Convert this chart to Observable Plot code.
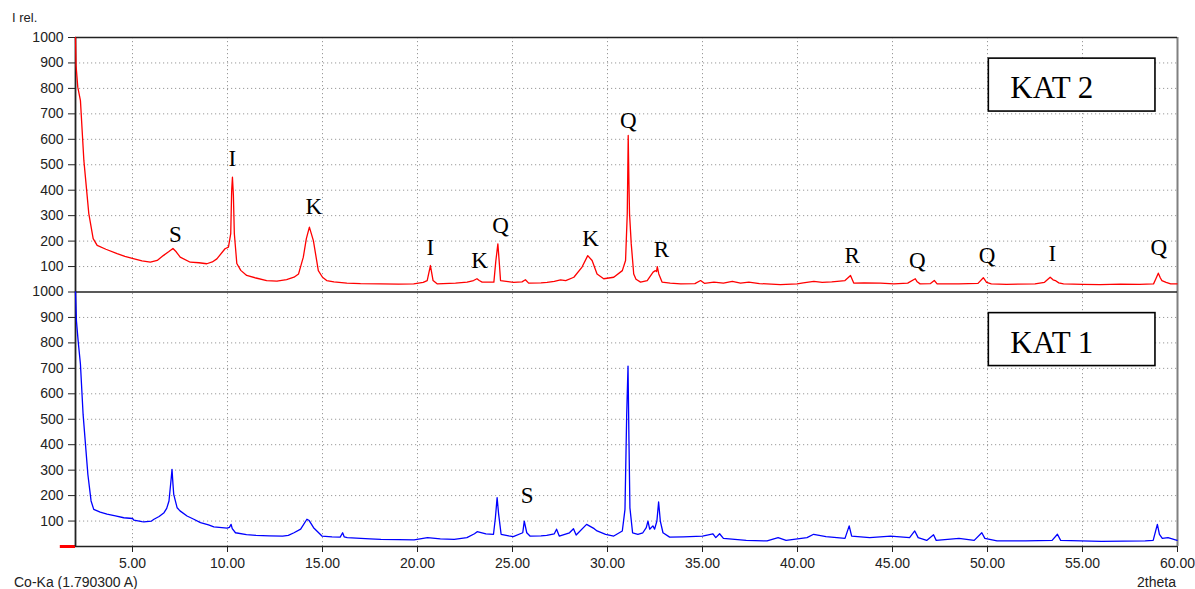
<!DOCTYPE html>
<html>
<head>
<meta charset="utf-8">
<script src="https://cdn.jsdelivr.net/npm/d3@7"></script>
<script src="https://cdn.jsdelivr.net/npm/@observablehq/plot@0.6"></script>
<style>
  body { margin: 0; background: white; }
  #wrap { position: relative; width: 1195px; height: 589px; font-family: 'Liberation Sans', Arial, sans-serif; color: #222; }
  .lab { position: absolute; white-space: nowrap; line-height: 1; }
</style>
</head>
<body>
<div id="wrap">
  <div id="chart"></div>
  <div class="lab" style="left:12px; top:11px; font-size:13px;">I rel.</div>
  <div class="lab" style="left:14px; top:575px; font-size:14px;">Co-Ka (1.790300 A)</div>
  <div class="lab" style="left:1137px; top:575px; font-size:14px;">2theta</div>
</div>
<script>
// KAT 2 (red, upper panel)
const kat2Theta = [2.00,2.03,2.12,2.26,2.44,2.70,2.93,3.14,3.6,4.19,4.6,5.04,5.5,5.94,6.3,6.62,6.9,7.13,7.3,7.51,8.04,8.5,8.91,9.2,9.44,9.87,10.05,10.17,10.22,10.26,10.31,10.36,10.49,10.7,11.01,11.5,12.06,12.6,13.11,13.5,13.74,13.99,14.15,14.31,14.52,14.78,15.0,15.22,15.6,16.28,17.0,18.05,19.0,19.8,20.3,20.51,20.68,20.82,21.03,22.0,22.61,22.95,23.13,23.25,23.4,24.02,24.12,24.23,24.30,24.37,25.06,25.5,25.68,25.85,26.5,26.82,27.2,27.53,27.8,28.23,28.66,28.96,29.19,29.45,29.8,30.33,30.78,30.95,31.04,31.09,31.13,31.16,31.25,31.38,31.5,31.74,32.09,32.40,32.52,32.58,32.62,32.70,32.87,33.3,33.85,34.6,34.9,35.1,35.6,36.1,36.57,37.0,37.44,38.0,39.1,39.98,40.3,40.86,41.3,41.8,42.09,42.5,42.79,42.96,43.5,44.37,45.07,45.8,46.20,46.30,46.45,47.0,47.2,47.35,48.5,49.5,49.78,49.95,50.2,51.0,52.5,53.0,53.30,53.45,53.57,53.75,54.0,55.0,55.93,57.0,58.0,58.74,58.85,58.99,59.1,59.18,59.4,59.64,59.98];
const kat2Intensity = [1000,890,805,752,517,308,210,183,168,151,140,131,122,117,124,143,158,171,158,137,117,115,111,118,130,170,176,229,400,451,380,229,112,85,65,55,45,43,49,58,71,137,210,255,202,84,58,45,40,35,33,32,31,32,38,45,104,45,32,35,39,45,52,45,39,39,120,189,120,45,38,40,48,35,36,38,42,48,45,58,98,143,124,71,52,58,84,124,307,615,420,307,189,71,50,39,45,78,84,80,100,71,39,35,32,33,45,34,39,35,42,35,39,33,29,32,36,42,38,40,42,45,65,35,36,35,32,35,52,40,32,33,45,32,32,34,56,38,32,30,32,38,58,48,45,36,32,30,29,31,30,32,50,74,55,45,38,32,32];

// KAT 1 (blue, lower panel)
const kat1Theta = [2.00,2.05,2.14,2.26,2.40,2.65,2.82,2.96,3.3,3.66,4.1,4.54,5.0,5.07,5.5,5.60,6.0,6.13,6.4,6.66,6.8,6.92,7.04,7.08,7.13,7.17,7.35,7.5,7.87,8.2,8.58,9.0,9.28,9.7,9.98,10.10,10.19,10.25,10.42,11.0,11.5,12.2,12.9,13.2,13.5,13.85,14.18,14.3,14.53,14.97,15.5,15.93,16.06,16.14,16.3,17.5,18.07,19.0,19.82,20.53,21.2,21.93,22.6,23.0,23.14,23.6,24.0,24.10,24.19,24.27,24.40,24.8,25.04,25.54,25.62,25.75,25.92,26.5,26.80,27.2,27.32,27.46,28.0,28.21,28.35,28.9,29.3,29.45,29.9,30.33,30.78,30.92,31.01,31.08,31.13,31.18,31.32,31.6,31.86,32.04,32.13,32.22,32.39,32.48,32.60,32.69,32.78,32.92,33.27,34.0,35.0,35.55,35.7,35.9,36.1,37.3,38.4,38.98,39.4,40.5,40.85,41.5,42.5,42.72,42.85,43.8,44.9,45.9,46.17,46.35,46.8,47.16,47.3,48.5,49.3,49.70,49.86,50.5,52.0,53.4,53.68,53.85,56.0,58.3,58.72,58.94,59.05,59.2,59.5,59.98];
const kat1Intensity = [1000,886,807,716,519,284,179,146,135,127,120,113,110,104,98,97,100,107,118,133,150,179,270,303,245,205,152,140,120,108,94,85,77,74,72,75,87,70,54,47,44,42,41,44,54,68,107,102,74,41,38,37,54,38,35,30,28,27,26,35,30,28,35,50,58,50,48,113,192,127,48,42,39,54,100,54,41,42,44,50,68,41,54,70,45,87,70,61,48,41,61,146,519,709,415,152,54,48,54,74,100,68,81,68,100,175,100,54,37,38,41,50,35,50,32,24,22,35,24,35,48,39,32,81,41,35,41,35,61,35,24,46,24,32,24,54,32,22,22,24,48,24,20,22,24,87,48,32,35,24];

// Phase annotations
const annText  = ["S","I","K","I","K","Q","K","Q","R","R","Q","Q","I","Q","S"];
const annTheta = [7.26,10.26,14.54,20.68,23.26,24.37,29.11,31.09,32.84,42.88,46.30,49.98,53.41,59.02,25.77];
const annValue = [226,526,334,176,124,262,211,675,167,144,124,144,150,176,199];
const annPanel = ["KAT 2","KAT 2","KAT 2","KAT 2","KAT 2","KAT 2","KAT 2","KAT 2","KAT 2","KAT 2","KAT 2","KAT 2","KAT 2","KAT 2","KAT 1"];

// Sample name boxes
const boxNames = ["KAT 2","KAT 1"];
const boxTheta1 = [50.07, 50.07];
const boxTheta2 = [58.84, 58.84];
const boxLow = [709, 709];
const boxHigh = [917, 917];
const boxTextTheta = [51.2, 51.2];
const boxTextValue = [801, 801];

// zero-level marker (left of axis)
const zeroMarkFrom = [1.2];
const zeroMarkTo = [2.0];
const zeroMarkLevel = [0];

const xTicks = [5,10,15,20,25,30,35,40,45,50,55,60];
const yTicks = [100,200,300,400,500,600,700,800,900,1000];

// panel offset: upper panel sits 1000 units above lower
const off = p => p === "KAT 2" ? 1000 : 0;
const yTicksAll = yTicks.concat(yTicks.map(v => v + 1000));

const kat2 = kat2Theta.map((t, i) => ({t, v: kat2Intensity[i] + 1000}));
const kat1 = kat1Theta.map((t, i) => ({t, v: kat1Intensity[i]}));
const ann = annText.map((s, i) => ({s, t: annTheta[i], v: annValue[i] + off(annPanel[i])}));
const boxes = boxNames.map((n, i) => ({n, x1: boxTheta1[i], x2: boxTheta2[i], y1: boxLow[i] + off(n), y2: boxHigh[i] + off(n), tx: boxTextTheta[i], ty: boxTextValue[i] + off(n)}));
const zeroMark = zeroMarkLevel.map((y, i) => ({y, x1: zeroMarkFrom[i], x2: zeroMarkTo[i]}));

const serif = "'Liberation Serif', 'Times New Roman', serif";
const gridStyle = {stroke: "#9a9a9a", strokeOpacity: 1, strokeWidth: 1, strokeDasharray: "1.2,2.8"};

const chart = Plot.plot({
  width: 1195,
  height: 589,
  marginLeft: 75,
  marginRight: 18,
  marginTop: 37,
  marginBottom: 43,
  x: {domain: [2, 60]},
  y: {domain: [0, 2000]},
  style: {fontFamily: "'Liberation Sans', Arial, sans-serif", fontSize: "14px", color: "#222", background: "white", overflow: "visible"},
  marks: [
    Plot.ruleY(yTicksAll.filter(v => v !== 1000 && v !== 2000), {y: d => d, ...gridStyle}),
    Plot.ruleX(xTicks.filter(v => v !== 60), {x: d => d, ...gridStyle}),
    Plot.axisY(yTicksAll, {tickFormat: d => String(d > 1000 ? d - 1000 : d), tickSize: 7, tickPadding: 5, label: null, stroke: "#222"}),
    Plot.axisX(xTicks, {tickFormat: d => d.toFixed(2), tickSize: 6, tickPadding: 6, label: null, stroke: "#222"}),
    Plot.ruleX([60], {stroke: "#808080", strokeWidth: 2}),
    Plot.ruleY([0, 1000, 2000], {stroke: "#222", strokeWidth: 1.6}),
    Plot.ruleY(zeroMark, {y: "y", x1: "x1", x2: "x2", stroke: "#ff0000", strokeWidth: 3}),
    Plot.ruleX([2], {stroke: "#222", strokeWidth: 1.8}),
    Plot.rect(boxes, {x1: "x1", x2: "x2", y1: "y1", y2: "y2", fill: "white", stroke: "black", strokeWidth: 1.6}),
    Plot.text(boxes, {x: "tx", y: "ty", text: "n", textAnchor: "start", fontFamily: serif, fontSize: 31, fill: "black"}),
    Plot.line(kat2, {x: "t", y: "v", stroke: "#ff0000", strokeWidth: 1.3}),
    Plot.line(kat1, {x: "t", y: "v", stroke: "#0000ff", strokeWidth: 1.3}),
    Plot.text(ann, {x: "t", y: "v", text: "s", fontFamily: serif, fontSize: 23, fill: "black"})
  ]
});
document.getElementById("chart").appendChild(chart);
</script>
</body>
</html>
